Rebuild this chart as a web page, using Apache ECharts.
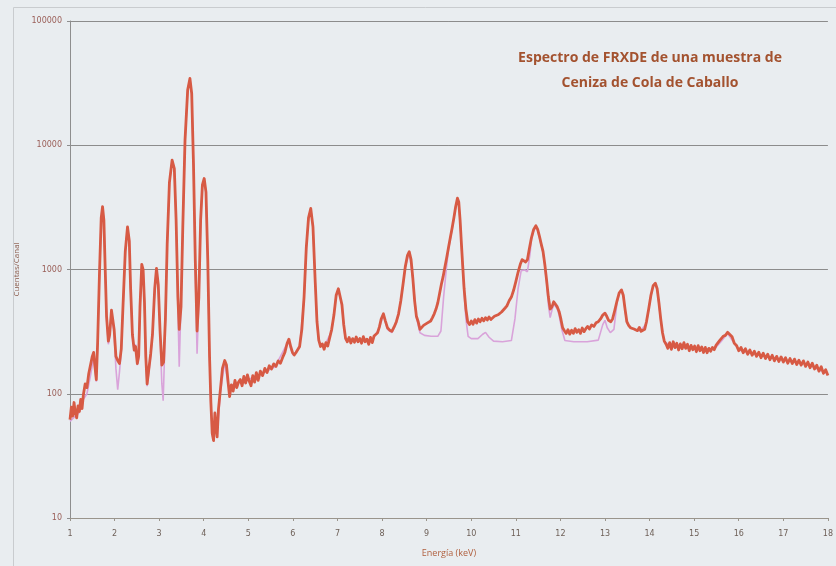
<!DOCTYPE html>
<html>
<head>
<meta charset="utf-8">
<script src="https://cdn.jsdelivr.net/npm/echarts@6/dist/echarts.min.js"></script>
<style>
  html, body { margin: 0; padding: 0; background: #e9edf0; }
  #chart { width: 836px; height: 566px; }
</style>
</head>
<body>
<div id="chart"></div>
<script>
// Espectro FRXDE: energía (keV) y cuentas por canal
const energyKeV = [
  1.00,1.03,1.06,1.09,1.12,1.15,1.18,1.21,1.24,1.27,1.30,1.34,1.38,1.42,1.46,1.50,1.53,1.56,1.59,1.62,
  1.66,1.70,1.73,1.76,1.79,1.82,1.86,1.89,1.93,1.96,1.99,2.03,2.07,2.11,2.15,2.19,2.24,2.29,2.33,2.36,
  2.40,2.44,2.47,2.51,2.54,2.57,2.61,2.64,2.67,2.70,2.73,2.77,2.81,2.85,2.90,2.94,2.98,3.02,3.06,3.10,
  3.14,3.18,3.23,3.29,3.34,3.38,3.42,3.45,3.49,3.53,3.58,3.64,3.69,3.73,3.77,3.81,3.85,3.89,3.93,3.97,
  4.01,4.05,4.09,4.13,4.16,4.19,4.22,4.25,4.28,4.30,4.33,4.37,4.42,4.47,4.51,4.55,4.58,4.62,4.66,4.70,
  4.74,4.78,4.82,4.86,4.90,4.94,4.98,5.02,5.06,5.10,5.14,5.18,5.22,5.27,5.32,5.37,5.42,5.47,5.52,5.57,
  5.62,5.67,5.72,5.77,5.82,5.87,5.91,5.95,5.99,6.03,6.07,6.11,6.15,6.20,6.25,6.30,6.35,6.40,6.45,6.50,
  6.54,6.58,6.62,6.66,6.70,6.74,6.78,6.82,6.87,6.92,6.97,7.02,7.06,7.10,7.14,7.18,7.22,7.26,7.30,7.34,
  7.38,7.42,7.46,7.50,7.54,7.58,7.62,7.66,7.70,7.74,7.78,7.82,7.86,7.90,7.94,7.98,8.03,8.07,8.12,8.17,
  8.22,8.27,8.32,8.37,8.42,8.47,8.52,8.57,8.61,8.65,8.69,8.73,8.77,8.81,8.85,8.89,8.93,8.97,9.01,9.05,
  9.09,9.13,9.17,9.21,9.25,9.29,9.33,9.37,9.41,9.45,9.49,9.53,9.57,9.61,9.65,9.69,9.72,9.75,9.78,9.81,
  9.84,9.88,9.92,9.96,10.00,10.04,10.08,10.12,10.16,10.20,10.24,10.28,10.32,10.36,10.40,10.44,10.48,10.52,10.56,10.60,
  10.64,10.68,10.72,10.76,10.80,10.85,10.90,10.95,11.00,11.05,11.10,11.14,11.18,11.22,11.26,11.30,11.35,11.40,11.45,11.49,
  11.53,11.57,11.61,11.65,11.69,11.73,11.77,11.81,11.85,11.89,11.93,11.97,12.01,12.05,12.09,12.13,12.17,12.21,12.25,12.29,
  12.33,12.37,12.41,12.45,12.49,12.53,12.57,12.61,12.65,12.70,12.75,12.80,12.85,12.90,12.95,13.00,13.04,13.08,13.13,13.17,
  13.22,13.27,13.32,13.37,13.41,13.45,13.49,13.53,13.57,13.61,13.65,13.69,13.73,13.77,13.81,13.85,13.89,13.93,13.98,14.03,
  14.08,14.13,14.17,14.21,14.25,14.29,14.33,14.37,14.41,14.45,14.49,14.53,14.57,14.61,14.65,14.69,14.73,14.77,14.81,14.85,
  14.89,14.93,14.97,15.01,15.05,15.09,15.13,15.17,15.21,15.25,15.29,15.33,15.37,15.41,15.45,15.49,15.53,15.57,15.61,15.65,
  15.70,15.75,15.80,15.85,15.90,15.95,16.00,16.05,16.10,16.15,16.20,16.25,16.30,16.35,16.40,16.45,16.50,16.55,16.60,16.65,
  16.70,16.75,16.80,16.85,16.90,16.95,17.00,17.05,17.10,17.15,17.20,17.25,17.30,17.35,17.40,17.45,17.50,17.55,17.60,17.65,
  17.70,17.75,17.80,17.85,17.90,17.95,18.00
];
const countsMeasured = [
  62,78,66,85,70,64,80,72,90,76,98,120,112,145,150,200,215,165,130,260,
  900,2600,3200,2500,1000,420,265,300,470,480,330,200,185,175,230,520,1400,2200,1700,700,
  300,225,240,175,200,500,1100,1000,550,200,120,160,210,300,700,1020,750,320,170,180,
  400,1600,5000,7600,6500,2500,600,330,500,2200,11000,28000,34500,26000,7000,1200,320,600,2500,4800,
  5400,4200,1200,200,85,48,42,70,52,45,75,105,160,185,170,120,95,118,105,128,
  112,124,130,116,138,122,142,126,116,140,124,148,128,152,140,160,148,168,158,174,
  166,184,176,196,215,255,275,240,215,205,215,210,240,330,600,1500,2600,3100,2200,800,
  380,270,240,252,228,258,242,278,330,430,620,700,690,520,360,280,262,284,256,278,
  260,286,262,278,255,288,262,275,250,284,258,292,282,310,345,400,440,390,340,325,
  318,345,380,440,560,760,1050,1300,1390,1200,850,560,420,380,330,340,355,345,370,360,
  385,410,440,480,540,640,760,880,1050,1250,1500,1800,2150,2600,3200,3750,3500,2500,1600,1050,
  700,480,380,360,385,362,395,370,400,380,405,386,410,392,415,396,408,420,405,432,
  440,455,470,490,510,560,600,680,800,950,1100,1200,1180,1150,1200,1450,1800,2100,2250,2100,
  1850,1600,1400,1100,820,600,480,500,550,545,500,460,400,340,322,306,328,302,324,306,
  334,312,328,306,338,316,334,348,332,358,348,372,380,400,430,445,420,390,380,400,
  470,560,650,685,620,480,380,355,340,350,332,342,322,342,318,308,330,380,480,620,
  740,775,700,540,400,310,265,250,232,258,228,262,235,255,225,252,230,258,232,250,
  222,245,226,242,218,244,222,238,215,236,214,232,220,236,226,245,248,268,265,290,
  295,312,300,288,255,245,222,236,214,230,208,225,204,220,200,216,195,212,192,208,
  188,204,184,200,182,198,180,195,176,192,175,190,172,186,170,184,166,180,162,176,
  158,170,152,165,146,156,140
];

// Curva ajustada (fondo + picos)
const energyFit = [
  1.00,1.10,1.20,1.30,1.38,1.46,1.53,1.59,1.62,1.66,1.70,1.73,1.76,1.79,1.82,1.86,1.89,1.93,1.96,1.99,
  2.03,2.07,2.11,2.15,2.19,2.24,2.29,2.33,2.36,2.40,2.44,2.47,2.51,2.54,2.57,2.61,2.64,2.67,2.70,2.73,
  2.77,2.81,2.85,2.90,2.94,2.98,3.02,3.06,3.09,3.12,3.18,3.23,3.29,3.34,3.38,3.42,3.45,3.48,3.53,3.58,
  3.64,3.69,3.73,3.77,3.81,3.85,3.89,3.93,3.97,4.01,4.05,4.09,4.13,4.16,4.20,4.25,4.30,4.37,4.47,4.55,
  4.70,5.00,5.30,5.60,5.90,6.00,6.15,6.25,6.30,6.35,6.40,6.45,6.50,6.54,6.58,6.70,6.87,6.97,7.02,7.06,
  7.10,7.14,7.18,7.50,7.80,7.94,8.03,8.12,8.22,8.32,8.42,8.52,8.61,8.69,8.77,8.85,8.95,9.10,9.25,9.32,
  9.38,9.44,9.49,9.53,9.57,9.61,9.65,9.69,9.72,9.75,9.78,9.81,9.84,9.88,9.93,10.00,10.15,10.25,10.32,10.40,
  10.50,10.70,10.90,10.98,11.05,11.12,11.20,11.26,11.32,11.35,11.40,11.45,11.49,11.53,11.57,11.61,11.65,11.69,11.73,11.77,
  11.81,11.85,11.89,11.93,11.97,12.03,12.10,12.30,12.60,12.85,12.95,13.00,13.05,13.12,13.20,13.27,13.32,13.37,13.41,13.45,
  13.49,13.60,13.80,13.93,14.03,14.08,14.13,14.17,14.21,14.25,14.33,14.50,15.00,15.45,15.60,15.75,15.90,16.00,16.50,17.00,
  17.50,18.00
];
const countsFit = [
  60,65,70,90,100,140,195,125,250,880,2550,3150,2450,980,400,250,290,460,470,300,
  160,108,150,220,500,1380,2180,1680,680,290,220,250,170,195,490,1090,990,540,190,115,
  150,200,290,690,1010,740,300,120,88,200,1580,4950,7500,6400,2450,500,165,400,2150,10900,
  27800,34300,25800,6900,1000,210,550,2450,4750,5350,4150,1180,195,80,45,60,46,100,180,115,
  120,130,145,165,265,205,235,590,1480,2580,3080,2180,790,370,262,240,320,610,690,680,
  510,350,270,265,275,340,430,330,310,370,550,1040,1380,840,410,310,295,290,290,320,
  600,1000,1450,1750,2100,2550,3150,3700,3450,2450,1550,1000,650,400,290,278,278,300,312,285,
  265,262,268,400,700,980,990,960,1350,1750,2050,2200,2050,1800,1560,1360,1070,790,520,410,
  470,530,530,480,430,330,268,262,262,270,360,390,340,310,330,540,640,675,610,470,
  370,335,320,370,610,730,765,690,530,390,262,240,232,228,262,305,255,225,202,187,
  175,145
];

const measuredData = energyKeV.map((e, i) => [e, countsMeasured[i]]);
const fitData = energyFit.map((e, i) => [e, countsFit[i]]);

const chart = echarts.init(document.getElementById('chart'), null, { renderer: 'canvas' });

chart.setOption({
  animation: false,
  backgroundColor: '#e9edf0',
  title: {
    text: 'Espectro de FRXDE de una muestra de\nCeniza de Cola de Caballo',
    left: 645,
    top: 41,
    textAlign: 'center',
    textStyle: {
      fontFamily: 'Open Sans',
      fontWeight: 'bold',
      fontSize: 14,
      lineHeight: 25,
      color: '#a3522f'
    }
  },
  graphic: [
    {
      type: 'rect',
      shape: { x: 13.5, y: 7.5, width: 840, height: 580 },
      style: { fill: 'none', stroke: '#c9cccf', lineWidth: 1 },
      silent: true,
      z: -1
    }
  ],
  grid: { left: 70, right: 7, top: 21, bottom: 48, containLabel: false },
  xAxis: {
    type: 'value',
    min: 1,
    max: 18,
    interval: 1,
    name: 'Energía (keV)',
    nameLocation: 'middle',
    nameGap: 31,
    nameTextStyle: { fontFamily: 'Open Sans', fontSize: 9, color: '#b0603f' },
    axisLine: { show: true, lineStyle: { color: '#9a958c', width: 1 } },
    axisTick: { show: true, length: 3, lineStyle: { color: '#9a958c' } },
    axisLabel: { fontFamily: 'DejaVu Sans', fontSize: 8, color: '#6d5f57', margin: 12 },
    splitLine: { show: false }
  },
  yAxis: {
    type: 'log',
    logBase: 10,
    min: 10,
    max: 100000,
    name: 'Cuentas/Canal',
    nameLocation: 'middle',
    nameGap: 45,
    nameRotate: 90,
    nameTextStyle: { fontFamily: 'Open Sans', fontSize: 8, color: '#8a5a4a' },
    axisLine: { show: true, lineStyle: { color: '#8e8e8e', width: 1 } },
    axisTick: { show: true, length: 3, inside: false, lineStyle: { color: '#8e8e8e' } },
    axisLabel: {
      fontFamily: 'DejaVu Sans',
      fontSize: 8,
      color: '#9a5f58',
      margin: 8,
      formatter: v => String(Math.round(v))
    },
    splitLine: { show: true, lineStyle: { color: '#8c8c8c', width: 1 } },
    minorTick: { show: false }
  },
  series: [
    {
      name: 'Ajuste',
      type: 'line',
      data: fitData,
      showSymbol: false,
      lineStyle: { color: '#d9a3da', width: 1.6 },
      z: 2
    },
    {
      name: 'Medido',
      type: 'line',
      data: measuredData,
      showSymbol: false,
      lineStyle: { color: '#d75a44', width: 2.8, join: 'round' },
      z: 3
    }
  ]
});
</script>
</body>
</html>
